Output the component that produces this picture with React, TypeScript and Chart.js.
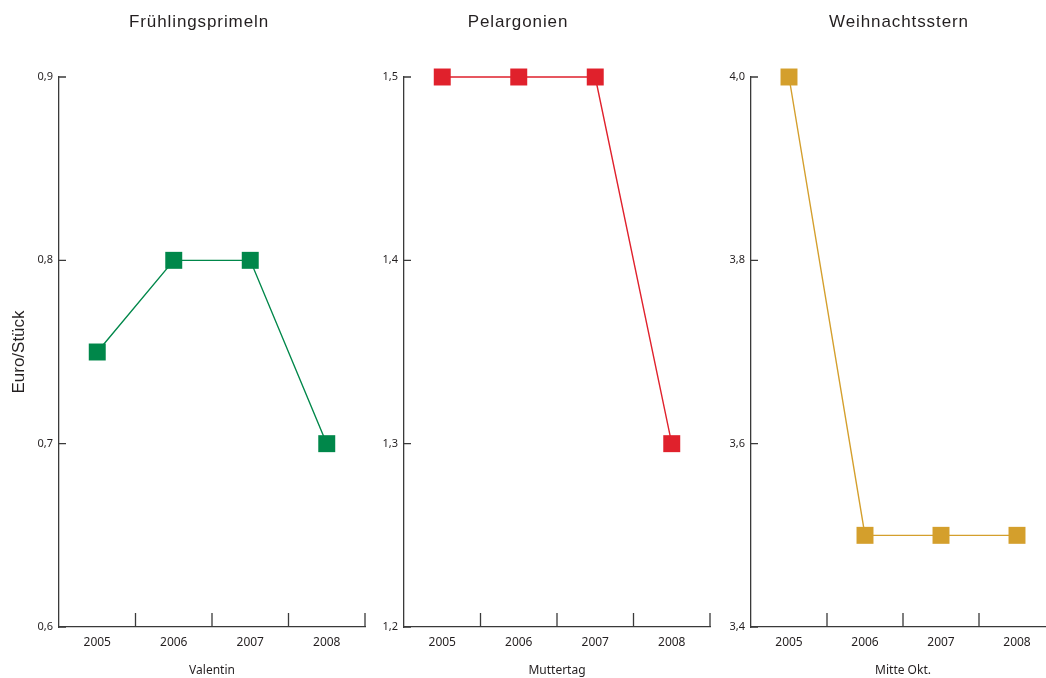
import React, { useEffect, useRef } from "react";
import { Chart, registerables } from "chart.js";

Chart.register(...registerables);

// ---- data ----
const years = ["2005", "2006", "2007", "2008"];
const panelTitles = ["Frühlingsprimeln", "Pelargonien", "Weihnachtsstern"];
const occasionLabels = ["Valentin", "Muttertag", "Mitte Okt."];
const yUnitLabel = "Euro/Stück";
const primelnValues = [0.75, 0.8, 0.8, 0.7];
const pelargonienValues = [1.5, 1.5, 1.5, 1.3];
const weihnachtssternValues = [4.0, 3.5, 3.5, 3.5];
const primelnTicks = [0.6, 0.7, 0.8, 0.9];
const pelargonienTicks = [1.2, 1.3, 1.4, 1.5];
const weihnachtssternTicks = [3.4, 3.6, 3.8, 4.0];

// ---- styles / layout ----
const AXIS_COLOR = "#3a3a3a";
const TEXT_COLOR = "#231f20";
const HEIGHT = 678;
const panelColors = ["#00874a", "#e0212c", "#d49f2c"];
const panelLayout = [
  { left: 0, width: 380, axisWidth: 59, padRight: 15, titleX: 199, showUnit: true },
  { left: 366, width: 358, axisWidth: 38, padRight: 14, titleX: 152, showUnit: false },
  { left: 712, width: 355, axisWidth: 39, padRight: 10, titleX: 187, showUnit: false },
];
const panelValues = [primelnValues, pelargonienValues, weihnachtssternValues];
const panelTicks = [primelnTicks, pelargonienTicks, weihnachtssternTicks];

const innerTicks = {
  id: "innerTicks",
  afterDraw(chart: any, _args: any, opts: any) {
    const { ctx, chartArea, scales } = chart;
    const xs = scales.x;
    const ys = scales.y;
    ctx.save();
    ctx.strokeStyle = AXIS_COLOR;
    ctx.lineWidth = 1.3;
    ctx.beginPath();
    ys.ticks.forEach((t: any) => {
      const py = ys.getPixelForValue(t.value);
      ctx.moveTo(chartArea.left, py);
      ctx.lineTo(chartArea.left + 7, py);
    });
    for (let i = 0; i < xs.ticks.length; i++) {
      const px = xs.getPixelForValue(i + 0.5);
      ctx.moveTo(px, chartArea.bottom);
      ctx.lineTo(px, chartArea.bottom - 14);
    }
    ctx.stroke();
    if (opts && opts.title) {
      ctx.font = '17px "Liberation Sans", Arial, sans-serif';
      (ctx as any).letterSpacing = "0.9px";
      ctx.fillStyle = TEXT_COLOR;
      ctx.textAlign = "center";
      ctx.textBaseline = "alphabetic";
      ctx.fillText(opts.title, opts.titleX, 27);
    }
    ctx.restore();
  },
};

function Panel({ index }: { index: number }) {
  const ref = useRef<HTMLCanvasElement | null>(null);
  const lay = panelLayout[index];
  useEffect(() => {
    if (!ref.current) return;
    const tickVals = panelTicks[index];
    const chart = new Chart(ref.current, {
      type: "line",
      data: {
        labels: years,
        datasets: [
          {
            data: panelValues[index],
            borderColor: panelColors[index],
            backgroundColor: panelColors[index],
            borderWidth: 1.4,
            pointStyle: "rect",
            pointRadius: 12,
            pointHoverRadius: 12,
            pointBorderWidth: 0,
            pointBackgroundColor: panelColors[index],
            tension: 0,
            clip: false as any,
          },
        ],
      },
      options: {
        responsive: false,
        animation: false,
        events: [],
        layout: { padding: { top: 77, right: lay.padRight, bottom: 0, left: 0 } },
        plugins: {
          legend: { display: false },
          tooltip: { enabled: false },
          innerTicks: { title: panelTitles[index], titleX: lay.titleX },
        } as any,
        scales: {
          x: {
            type: "category",
            offset: true,
            grid: { display: false, drawTicks: false, offset: true },
            border: { display: true, color: AXIS_COLOR, width: 1.3 },
            ticks: {
              color: TEXT_COLOR,
              font: { family: '"Noto Sans", sans-serif', size: 12 },
              padding: 8,
              maxRotation: 0,
            },
            title: {
              display: true,
              text: occasionLabels[index],
              color: TEXT_COLOR,
              font: { family: '"Noto Sans", sans-serif', size: 12 },
              padding: { top: 0, bottom: 0 },
            },
            afterFit: (s: any) => {
              s.height = 51;
            },
          },
          y: {
            type: "linear",
            min: tickVals[0],
            max: tickVals[tickVals.length - 1],
            grid: { display: false, drawTicks: false },
            border: { display: true, color: AXIS_COLOR, width: 1.3 },
            afterBuildTicks: (s: any) => {
              s.ticks = tickVals.map((v) => ({ value: v }));
            },
            ticks: {
              color: TEXT_COLOR,
              font: { family: '"Noto Sans", sans-serif', size: 11 },
              padding: 6,
              callback: (v: any) => Number(v).toFixed(1).replace(".", ","),
            },
            title: {
              display: lay.showUnit,
              text: yUnitLabel,
              color: TEXT_COLOR,
              font: { family: '"Liberation Sans", Arial, sans-serif', size: 17 },
              padding: { top: 9, bottom: 0 },
            },
            afterFit: (s: any) => {
              s.width = lay.axisWidth;
            },
          },
        },
      },
      plugins: [innerTicks as any],
    });
    return () => chart.destroy();
  }, [index]);
  return (
    <canvas
      ref={ref}
      width={lay.width}
      height={HEIGHT}
      style={{ position: "absolute", left: lay.left, top: 0, width: lay.width, height: HEIGHT }}
    />
  );
}

export default function App() {
  return (
    <div
      style={{
        position: "fixed",
        left: 0,
        top: 0,
        width: 1046,
        height: HEIGHT,
        overflow: "hidden",
        background: "#ffffff",
      }}
    >
      {panelTitles.map((_, i) => (
        <Panel key={i} index={i} />
      ))}
    </div>
  );
}
